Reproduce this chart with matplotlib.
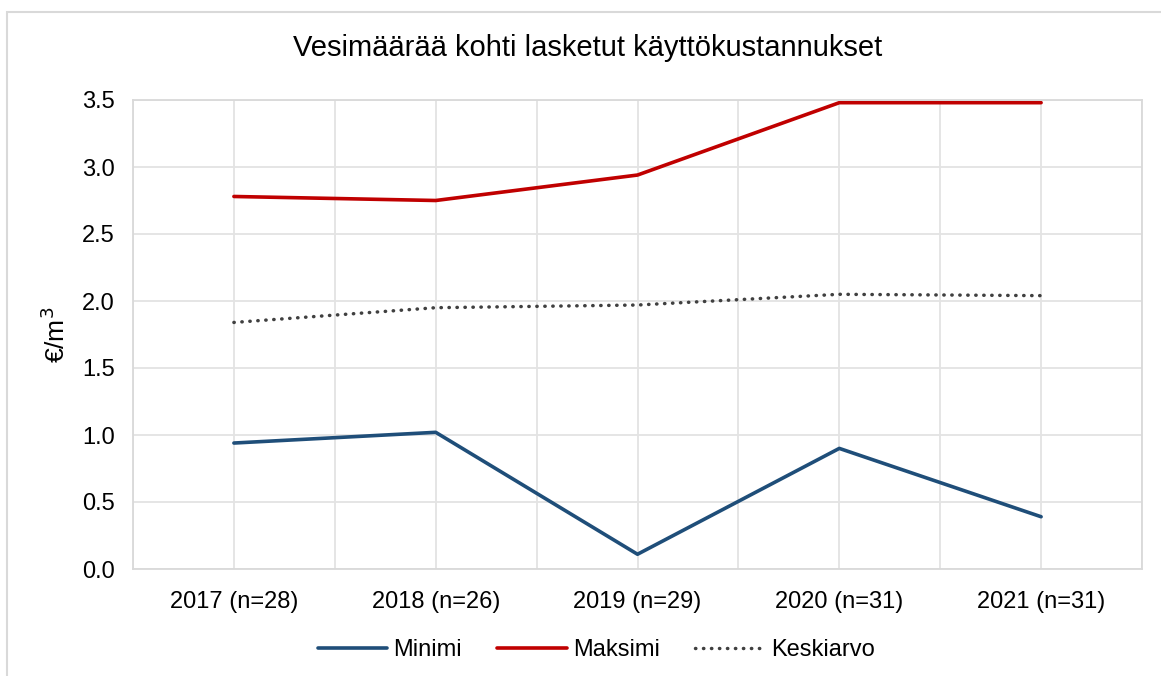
import matplotlib.pyplot as plt
from matplotlib.patches import Rectangle
import numpy as np

plt.rcParams['font.family'] = ['Liberation Sans', 'DejaVu Sans']

# Data
years = ["2017 (n=28)", "2018 (n=26)", "2019 (n=29)", "2020 (n=31)", "2021 (n=31)"]
minimi = [0.94, 1.02, 0.11, 0.90, 0.39]
maksimi = [2.78, 2.75, 2.94, 3.48, 3.48]
keskiarvo = [1.84, 1.95, 1.97, 2.05, 2.04]

fig = plt.figure(figsize=(11.61, 6.76), dpi=100)
ax = fig.add_axes([133 / 1161, 107 / 676, 1009 / 1161, 469 / 676])

x = np.arange(len(years))
ax.plot(x, minimi, color='#1F4E79', lw=2.6, label='Minimi', solid_capstyle='round')
ax.plot(x, maksimi, color='#C00000', lw=2.6, label='Maksimi', solid_capstyle='round')
ax.plot(x, keskiarvo, color='#404040', lw=2.5, ls=(0, (0.1, 2.2)), dash_capstyle='round',
        label='Keskiarvo')

ax.set_xlim(-0.5, len(years) - 0.5)
ax.set_ylim(0, 3.5)
ax.set_yticks(np.arange(0, 3.51, 0.5))
ax.set_yticklabels([f'{v:.1f}' for v in np.arange(0, 3.51, 0.5)], fontsize=17)
ax.set_xticks(x)
ax.set_xticklabels(years, fontsize=17)
ax.set_xticks(np.arange(-0.5, len(years), 1), minor=True)
ax.tick_params(axis='both', which='both', length=0)
ax.tick_params(axis='y', pad=13)
ax.tick_params(axis='x', pad=16)
ax.grid(True, which='both', color='#E3E3E3', lw=1.3)
ax.set_axisbelow(True)
for s in ax.spines.values():
    s.set_color('#D9D9D9')
    s.set_linewidth(1.3)

ax.set_ylabel('€/m$^3$', fontsize=19)
ax.yaxis.set_label_coords(-0.062, 0.5)
fig.text(588 / 1161, 1 - 48 / 676, 'Vesimäärää kohti lasketut käyttökustannukset',
         fontsize=21, ha='center', va='center')

ax.legend(loc='upper center', bbox_to_anchor=(0.459, -0.105), ncol=3, frameon=False,
          fontsize=17, handlelength=2.95, columnspacing=1.5, handletextpad=0.25)

# outer chart border (left/top visible only)
fig.patches.append(Rectangle((7 / 1161, -0.1), 1.2, (676 - 12) / 676 + 0.1,
                             transform=fig.transFigure, fill=False,
                             edgecolor='#D9D9D9', lw=1.5))

plt.savefig('out.png', dpi=100)
